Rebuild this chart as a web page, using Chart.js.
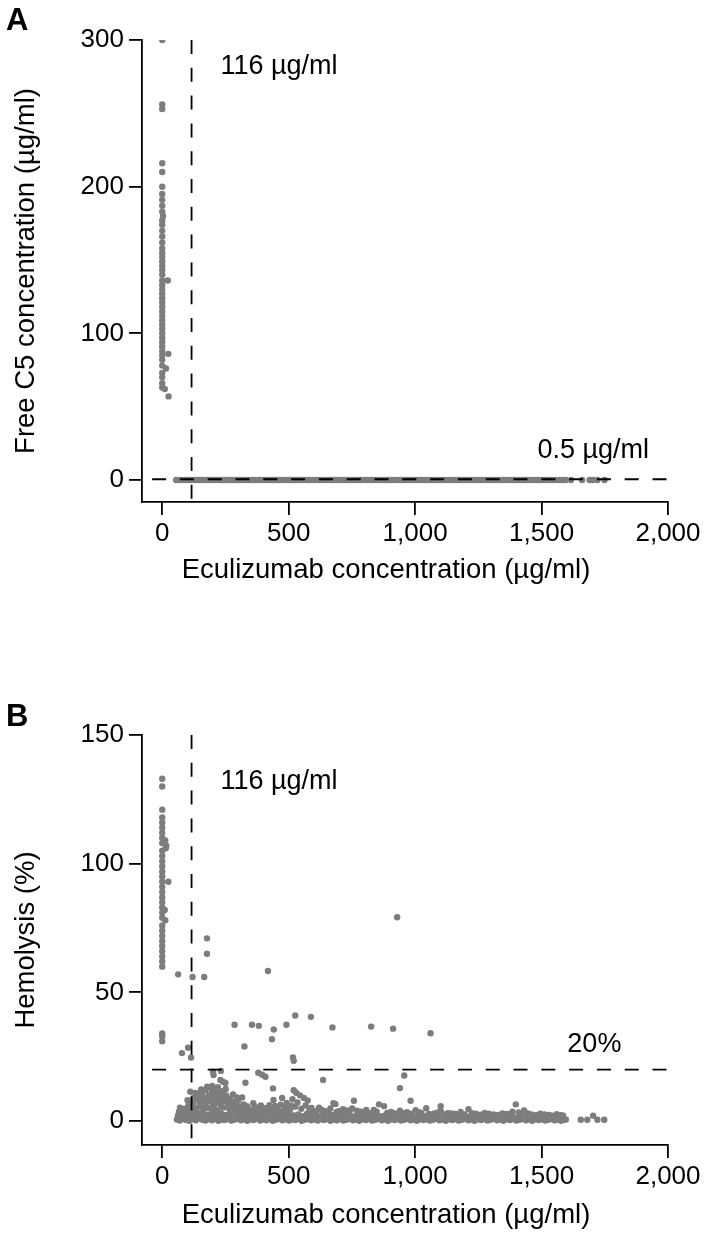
<!DOCTYPE html>
<html>
<head>
<meta charset="utf-8">
<title>Free C5 and hemolysis vs eculizumab concentration</title>
<script src="https://cdn.jsdelivr.net/npm/chart.js@4.4.0/dist/chart.umd.min.js"></script>
<style>
  body { margin: 0; background: #fff; }
  #wrap { position: relative; width: 709px; height: 1246px; }
  canvas { position: absolute; left: 0; }
  #chartA { top: 0; }
  #chartB { top: 620px; }
</style>
</head>
<body>
<div id="wrap">
  <canvas id="chartA" width="709" height="620"></canvas>
  <canvas id="chartB" width="709" height="626"></canvas>
</div>
<script>
// Axis ticks
const xTicks = [0, 500, 1000, 1500, 2000];
const c5Ticks = [0, 100, 200, 300];
const hemoTicks = [0, 50, 100, 150];

// Thresholds
const ecuThreshold = 116;   // µg/ml
const c5Threshold = 0.5;    // µg/ml
const hemoThreshold = 20;   // %

// Panel A: [eculizumab, free C5] where eculizumab was ~0
const c5LowEcu = [[0,300],[0,256],[0,253],[0,216],[0,210],[0,200],[0,195],[0,191],[0,187],[0,183],[3,180],
  [0,177],[0,174],[0,170],[0,166],[0,162],[0,158],[0,155],[0,152],[0,149],[0,146],[0,143],[0,140],[22,136],
  [0,136],[0,133],[0,130],[0,127],[0,124],[0,121],[0,118],[0,115],[0,112],[0,109],[0,106],[0,103],[0,100],
  [0,97],[0,94],[0,91],[0,88],[24,86],[0,85],[0,82],[0,78],[15,76],[0,73],[0,70],[0,66],[0,63],[10,62],[25,57]];

// Panel A: eculizumab values whose free C5 sits on 0 (below 0.5 µg/ml)
const c5SuppressedEcu = [55,66,78,89,101,113,126,138,149,161,174,186,197,209,222,234,245,257,270,282,293,305,
  318,330,341,353,366,378,389,401,414,426,437,449,462,474,485,497,510,522,533,545,558,570,581,593,606,618,629,
  641,654,666,677,689,702,714,725,737,750,762,773,785,798,810,821,833,846,858,869,881,894,906,917,929,942,954,
  965,977,990,1002,1013,1025,1038,1050,1061,1073,1086,1098,1109,1121,1134,1146,1157,1169,1182,1194,1205,1217,
  1230,1242,1253,1265,1278,1290,1301,1313,1326,1338,1349,1361,1374,1386,1397,1409,1422,1434,1445,1457,1470,
  1482,1493,1505,1518,1530,1541,1556,1572,1584,1595,1616,1660,1690,1703,1721,1749];

// Panel B: [eculizumab, hemolysis %] where eculizumab was ~0
const hemoLowEcu = [[0,133],[0,130],[0,121],[0,118],[0,116],[0,114],[0,112],[0,110],[0,108],[12,109],[16,107],
  [14,106],[0,105],[0,103],[0,101],[0,99],[0,97],[0,95],[24,93],[0,93],[0,91],[0,89],[0,87],[0,85],[0,83],
  [10,82],[0,81],[0,79],[12,78],[0,76],[0,74],[0,72],[0,70],[0,68],[0,66],[0,64],[0,62],[0,60],[0,34],[0,33],[0,31]];

// Panel B: scattered high values
const hemoHigh = [[63,57],[78,26.4],[102,28.5],[114,24.7],[120,56],[166,56],[177,71],[177,65],[286,37.4],
  [325,29],[355,37.4],[382,37],[418,58.3],[434,31.8],[441,35.6],[491,37.4],[526,41],[588,40.5],[673,36.4],
  [826,36.7],[913,35.9],[929,79.2],[1061,34.1],[517,24.7],[520,23.4]];

// Panel B: values between ~8 and 20 %
const hemoMid = [[111,11.4],[123,9.0],[198,13.6],[206,12.0],[201,19.2],[203,17.9],[232,19.5],[230,16.0],
  [240,15.3],[250,14.8],[329,14.9],[380,18.8],[395,18.0],[408,17.2],[438,12.7],[636,16.0],[940,12.8],
  [957,17.7],[982,7.9]];

// Panel B: low cloud, upper edge
const hemoCloudTop = [[66,3.5],[88,4.8],[104,6.2],[118,3.8],[126,8.4],[134,5.1],[141,10.6],[148,7.2],[154,12.3],
  [160,4.5],[166,9.1],[172,6.3],[178,13.4],[185,10.2],[191,7.7],[198,11.8],[204,5.6],[211,8.9],[217,4.2],
  [224,11.1],[230,7.4],[236,9.8],[243,5.3],[251,12.5],[258,8.1],[265,4.9],[272,6.6],[280,10.3],[288,4.1],
  [296,9.2],[305,5.7],[316,9.2],[329,4.4],[335,5.8],[346,3.7],[360,6.9],[372,4.6],[384,3.9],[395,5.4],
  [410,4.0],[424,6.2],[440,8.2],[452,4.7],[474,9.0],[486,5.3],[498,3.8],[510,6.0],[520,12.0],[530,11.0],
  [545,10.0],[560,9.0],[575,8.0],[590,5.1],[610,3.9],[632,4.3],[655,3.6],[677,6.9],[685,6.6],[700,3.9],
  [730,4.1],[751,4.9],[758,7.9],[785,3.6],[807,4.3],[837,4.3],[857,6.5],[877,5.8],[905,3.5],[940,4.0],
  [968,3.4],[1002,4.2],[1025,3.2],[1044,5.0],[1075,3.0],[1101,5.8],[1101,3.9],[1130,3.1],[1160,2.8],
  [1180,3.5],[1211,4.6],[1240,2.9],[1275,3.2],[1310,2.6],[1345,3.0],[1372,2.7],[1398,6.5],[1410,3.3],
  [1431,4.1],[1460,2.6],[1495,2.9],[1530,2.4],[1560,2.7],[1585,2.2],[1655,0.5],[1681,0.5],[1704,2.1],
  [1721,0.5],[1748,0.5]];

// Panel B: low cloud, filling between the rows
const hemoCloudBump = [[70,5.2],[80,2.9],[94,3.9],[100,8.1],[110,5.5],[122,6.8],[131,10.9],[137,3.4],[144,8.6],
  [151,5.9],[157,10.1],[163,6.7],[169,12.0],[175,8.3],[181,5.0],[188,12.9],[194,9.4],[200,6.2],[207,10.7],
  [214,7.0],[220,13.2],[227,9.1],[233,5.6],[239,11.6],[246,7.8],[253,10.0],[261,6.3],[268,8.7],[276,5.2],
  [284,7.4],[292,6.0],[300,8.0],[310,4.3],[322,6.5],[340,5.0],[352,4.0],[366,5.6],[378,4.2],[390,6.1],
  [402,3.8],[416,5.1],[430,4.4],[446,5.9],[460,3.9],[468,6.4],[480,4.2],[492,7.0],[505,4.5],[515,8.5],
  [525,5.6],[535,7.2],[550,4.8],[567,6.1],[582,4.4],[598,3.6],[620,5.2],[645,3.8],[665,4.9],[690,3.5],
  [715,4.6],[740,3.4],[770,4.0],[795,3.5],[820,3.1],[848,3.6],[890,3.2],[920,3.0],[955,3.1],[985,2.9],
  [1015,3.4],[1055,2.8],[1090,3.3],[1120,2.7],[1145,3.0],[1195,2.6],[1225,3.1],[1258,2.5],[1292,2.9],
  [1328,2.4],[1360,2.8],[1385,3.6],[1420,2.5],[1445,3.0],[1478,2.3],[1512,2.6],[1545,2.1],[1575,2.3]];

// Panel B: low cloud, middle row
const hemoCloudMid = [[62,2.1],[79,1.6],[96,2.8],[113,2.2],[130,3.4],[147,2.6],[164,3.0],[181,2.3],[198,3.5],
  [215,2.7],[232,3.1],[249,2.4],[266,2.9],[283,2.0],[300,3.2],[317,2.5],[334,2.9],[351,2.2],[368,3.1],
  [385,2.4],[402,2.8],[419,2.1],[436,3.0],[453,2.3],[470,2.7],[487,2.0],[504,2.9],[521,2.2],[538,2.6],
  [555,1.9],[572,2.8],[589,2.1],[606,2.5],[623,1.8],[640,2.7],[657,2.0],[674,2.4],[691,1.9],[708,2.6],
  [725,2.0],[742,2.3],[759,1.8],[776,2.5],[793,1.9],[810,2.2],[827,1.7],[844,2.4],[861,1.8],[878,2.1],
  [895,1.7],[912,2.3],[929,1.8],[946,2.0],[963,1.6],[980,2.2],[997,1.7],[1014,2.0],[1031,1.6],[1048,2.1],
  [1065,1.6],[1082,1.9],[1099,1.5],[1116,2.0],[1133,1.6],[1150,1.9],[1167,1.5],[1184,1.9],[1201,1.5],
  [1218,1.8],[1235,1.4],[1252,1.8],[1269,1.4],[1286,1.7],[1303,1.3],[1320,1.7],[1337,1.3],[1354,1.6],
  [1371,1.2],[1388,1.6],[1405,1.2],[1422,1.5],[1439,1.1],[1456,1.5],[1473,1.1],[1490,1.4],[1507,1.0],
  [1524,1.3],[1541,1.0],[1558,1.2],[1575,0.9]];

// Panel B: low cloud, lower middle row
const hemoCloudLow = [[64,1.4],[77,1.8],[90,1.2],[102,1.9],[115,1.5],[127,1.3],[140,2.0],[153,1.6],[165,1.2],
  [178,1.8],[190,1.4],[203,2.0],[216,1.3],[228,1.7],[241,1.5],[254,1.9],[266,1.2],[279,1.6],[292,1.8],
  [304,1.3],[317,1.7],[330,1.4],[342,1.9],[355,1.2],[368,1.6],[380,1.8],[393,1.3],[406,1.5],[418,1.9],
  [431,1.2],[444,1.7],[456,1.4],[469,1.8],[482,1.3],[494,1.6],[507,1.9],[520,1.2],[532,1.5],[545,1.8],
  [558,1.3],[570,1.7],[583,1.4],[596,1.6],[608,1.2],[621,1.8],[634,1.5],[646,1.3],[659,1.7],[672,1.4],
  [684,1.9],[697,1.2],[710,1.6],[722,1.4],[735,1.8],[748,1.3],[760,1.5],[773,1.7],[786,1.2],[798,1.6],
  [811,1.4],[824,1.8],[836,1.3],[849,1.5],[862,1.7],[874,1.2],[887,1.6],[900,1.4],[912,1.3],[925,1.7],
  [938,1.5],[950,1.2],[963,1.4],[976,1.6],[988,1.3],[1001,1.5],[1014,1.2],[1026,1.4],[1039,1.6],[1052,1.3],
  [1064,1.2],[1077,1.5],[1090,1.3],[1102,1.1],[1115,1.4],[1128,1.2],[1140,1.3],[1153,1.1],[1166,1.4],
  [1178,1.2],[1191,1.0],[1204,1.3],[1216,1.1],[1229,1.2],[1242,1.0],[1254,1.3],[1267,1.1],[1280,0.9],
  [1292,1.2],[1305,1.0],[1318,1.1],[1330,0.9],[1343,1.2],[1356,1.0],[1368,0.8],[1381,1.1],[1394,0.9],
  [1406,1.0],[1419,0.8],[1432,1.1],[1444,0.9],[1457,0.7],[1470,1.0],[1482,0.8],[1495,0.9],[1508,0.7],
  [1520,1.0],[1533,0.8],[1546,0.6],[1558,0.9],[1571,0.7],[1584,0.8],[1596,0.6]];

// Panel B: low cloud, bottom row
const hemoCloudBase = [[58,0.6],[70,0.2],[83,0.9],[95,0.4],[108,0.1],[121,0.8],[133,0.3],[146,1.0],[159,0.5],
  [171,0.2],[184,0.7],[197,0.3],[209,0.9],[222,0.1],[235,0.6],[247,0.4],[260,0.8],[273,0.2],[285,0.5],
  [298,0.9],[311,0.3],[323,0.7],[336,0.1],[349,0.6],[361,0.4],[374,0.9],[387,0.2],[399,0.6],[412,0.3],
  [425,0.8],[437,0.1],[450,0.5],[463,0.9],[475,0.3],[488,0.7],[501,0.2],[513,0.6],[526,0.4],[539,0.9],
  [551,0.1],[564,0.5],[577,0.8],[589,0.3],[602,0.6],[615,0.2],[627,0.7],[640,0.4],[653,0.9],[665,0.1],
  [678,0.6],[691,0.3],[703,0.8],[716,0.2],[729,0.5],[741,0.9],[754,0.3],[767,0.6],[779,0.1],[792,0.7],
  [805,0.4],[817,0.8],[830,0.2],[843,0.5],[855,0.9],[868,0.3],[881,0.6],[893,0.1],[906,0.7],[919,0.4],
  [931,0.8],[944,0.2],[957,0.5],[969,0.9],[982,0.3],[995,0.6],[1007,0.1],[1020,0.7],[1033,0.4],[1045,0.8],
  [1058,0.2],[1071,0.5],[1083,0.9],[1096,0.3],[1109,0.6],[1121,0.1],[1134,0.7],[1147,0.4],[1159,0.8],
  [1172,0.2],[1185,0.5],[1197,0.9],[1210,0.3],[1223,0.6],[1235,0.1],[1248,0.7],[1261,0.4],[1273,0.8],
  [1286,0.2],[1299,0.5],[1311,0.9],[1324,0.3],[1337,0.6],[1349,0.1],[1362,0.7],[1375,0.4],[1387,0.8],
  [1400,0.2],[1413,0.5],[1425,0.9],[1438,0.3],[1451,0.6],[1463,0.1],[1476,0.7],[1489,0.4],[1501,0.8],
  [1514,0.2],[1527,0.5],[1539,0.9],[1552,0.3],[1565,0.6],[1577,0.1],[1590,0.5]];

const FONT = '"Liberation Sans", Arial, Helvetica, sans-serif';
const DOT = '#7d7d7d';
const X_TITLE = 'Eculizumab concentration (µg/ml)';

function toPoints(pairs) {
  return pairs.map(p => ({ x: p[0], y: p[1] }));
}

function dots(points) {
  return { data: points, pointRadius: 3.2, pointHoverRadius: 3.2, pointBackgroundColor: DOT,
    pointBorderWidth: 0, showLine: false, order: 1 };
}

function dashed(points) {
  return { data: points, showLine: true, pointRadius: 0, borderColor: '#000', borderWidth: 1.8,
    borderDash: [14, 13.8], fill: false, order: 0 };
}

// texts, x title and panel letter
const notesPlugin = {
  id: 'notes',
  afterDatasetsDraw(chart, args, opts) {
    const ctx = chart.ctx;
    const xs = chart.scales.x, ys = chart.scales.y;
    ctx.save();
    ctx.fillStyle = '#000';
    ctx.textBaseline = 'alphabetic';
    ctx.textAlign = 'left';
    ctx.font = '27px ' + FONT;
    opts.labels.forEach(l => ctx.fillText(l.text, xs.getPixelForValue(l.x), ys.getPixelForValue(l.y)));
    ctx.font = 'bold 31px ' + FONT;
    ctx.fillText(opts.panel, 6, opts.panelY);
    // x axis title sits a little left of the axis centre in the original
    ctx.font = '27.5px ' + FONT;
    ctx.textAlign = 'center';
    ctx.textBaseline = 'middle';
    ctx.fillText(X_TITLE, 386, opts.xTitleY);
    ctx.restore();
  }
};

function makePanel(id, o) {
  const ctx = document.getElementById(id).getContext('2d');
  return new Chart(ctx, {
    type: 'scatter',
    data: { datasets: o.datasets },
    plugins: [notesPlugin],
    options: {
      responsive: false,
      animation: false,
      devicePixelRatio: 1,
      layout: { padding: { left: 0, right: 41, top: o.top, bottom: 0 } },
      plugins: {
        legend: { display: false },
        tooltip: { enabled: false },
        notes: { labels: o.labels, panel: o.panel, panelY: o.panelY, xTitleY: o.xTitleY }
      },
      scales: {
        x: {
          type: 'linear', min: -80, max: 2000,
          afterBuildTicks: axis => { axis.ticks = xTicks.map(v => ({ value: v })); },
          afterFit: axis => { axis.height = o.xHeight; },
          ticks: { color: '#000', padding: 3, maxRotation: 0, autoSkip: false,
            font: { family: FONT, size: 26 }, callback: v => v.toLocaleString('en-US') },
          grid: { drawOnChartArea: false, drawTicks: true, tickLength: 13, color: '#000', lineWidth: 1.8 },
          border: { display: true, color: '#000', width: 1.8 },
          title: { display: false }
        },
        y: {
          type: 'linear', min: o.yMin, max: o.yMax,
          afterBuildTicks: axis => { axis.ticks = o.yTicks.map(v => ({ value: v })); },
          afterFit: axis => { axis.width = 142; },
          ticks: { color: '#000', padding: 5, font: { family: FONT, size: 26 } },
          grid: { drawOnChartArea: false, drawTicks: true, tickLength: 13, color: '#000', lineWidth: 1.8 },
          border: { display: true, color: '#000', width: 1.8 },
          title: { display: true, text: o.yTitle, color: '#000',
            font: { family: FONT, size: 27.5 }, padding: { top: 10, bottom: 0 } }
        }
      }
    }
  });
}

makePanel('chartA', {
  top: 40, xHeight: 118, xTitleY: 570, yMin: -15, yMax: 300, yTicks: c5Ticks,
  yTitle: 'Free C5 concentration (µg/ml)', panel: 'A', panelY: 30,
  labels: [
    { text: '116 µg/ml', x: 230, y: 277 },
    { text: '0.5 µg/ml', x: 1484, y: 15 }
  ],
  datasets: [
    dashed([{ x: ecuThreshold, y: 300 }, { x: ecuThreshold, y: -15 }]),
    dashed([{ x: -40, y: c5Threshold }, { x: 2000, y: c5Threshold }]),
    dots(toPoints(c5LowEcu)),
    dots(c5SuppressedEcu.map(x => ({ x: x, y: 0 })))
  ]
});

makePanel('chartB', {
  top: 115, xHeight: 101, xTitleY: 595, yMin: -9.3, yMax: 150, yTicks: hemoTicks,
  yTitle: 'Hemolysis (%)', panel: 'B', panelY: 106,
  labels: [
    { text: '116 µg/ml', x: 230, y: 129 },
    { text: '20%', x: 1602, y: 27 }
  ],
  datasets: [
    dashed([{ x: ecuThreshold, y: 150 }, { x: ecuThreshold, y: -9.3 }]),
    dashed([{ x: -40, y: hemoThreshold }, { x: 2000, y: hemoThreshold }]),
    dots(toPoints(hemoLowEcu)),
    dots(toPoints(hemoHigh)),
    dots(toPoints(hemoMid)),
    dots(toPoints(hemoCloudTop)),
    dots(toPoints(hemoCloudBump)),
    dots(toPoints(hemoCloudMid)),
    dots(toPoints(hemoCloudLow)),
    dots(toPoints(hemoCloudBase))
  ]
});
</script>
</body>
</html>
